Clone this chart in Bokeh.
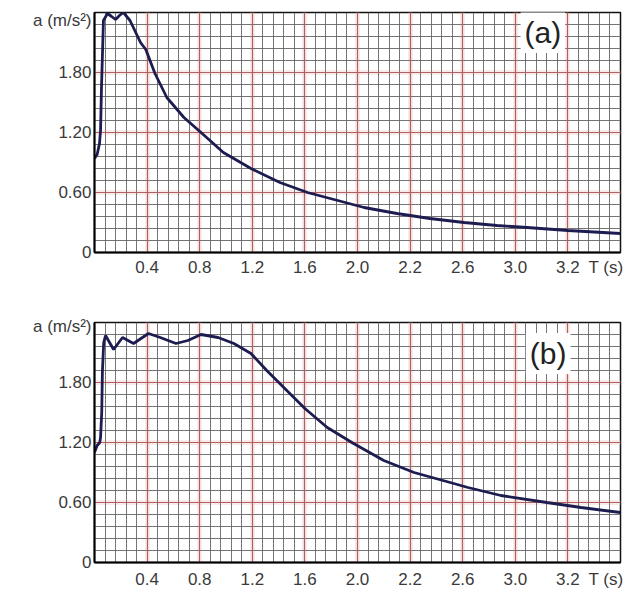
from bokeh.plotting import figure
from bokeh.models import Label, Grid, FixedTicker, Range1d
from bokeh.layouts import column
from bokeh.embed import file_html
from bokeh.resources import INLINE

# ---- data ----
T_a = [0.0, 0.02, 0.038, 0.046, 0.053, 0.068, 0.099, 0.13, 0.16, 0.19, 0.22, 0.27, 0.35,
       0.39, 0.46, 0.55, 0.68, 0.81, 0.98, 1.19, 1.41, 1.62, 1.85, 2.05, 2.30, 2.55,
       2.81, 3.06, 3.29, 3.60, 4.00]
A_a = [0.94, 0.98, 1.09, 1.22, 1.64, 2.32, 2.39, 2.36, 2.33, 2.37, 2.40, 2.32, 2.10,
       2.03, 1.79, 1.55, 1.35, 1.20, 1.00, 0.84, 0.70, 0.60, 0.52, 0.45, 0.39, 0.34,
       0.30, 0.27, 0.25, 0.22, 0.19]

T_b = [0.0, 0.02, 0.04, 0.046, 0.055, 0.06, 0.07, 0.084, 0.145, 0.213, 0.297, 0.41,
       0.50, 0.62, 0.71, 0.81, 0.94, 1.06, 1.19, 1.31, 1.47, 1.60, 1.77, 1.97, 2.20,
       2.43, 2.65, 2.84, 3.09, 3.44, 3.70, 4.00]
A_b = [1.10, 1.17, 1.20, 1.25, 1.50, 1.90, 2.20, 2.27, 2.13, 2.25, 2.19, 2.29,
       2.25, 2.19, 2.22, 2.28, 2.25, 2.19, 2.09, 1.92, 1.71, 1.54, 1.35, 1.19, 1.02,
       0.90, 0.82, 0.75, 0.67, 0.60, 0.55, 0.50]

x_tick_values = [0.4, 0.8, 1.2, 1.6, 2.0, 2.4, 2.8, 3.2, 3.6]
x_tick_labels = ["0.4", "0.8", "1.2", "1.6", "2.0", "2.2", "2.6", "3.0", "3.2"]
y_tick_values = [0.0, 0.6, 1.2, 1.8]
y_tick_labels = ["0", "0.60", "1.20", "1.80"]
panel_tags = ["(a)", "(b)"]
y_title = "a (m/s\u00b2)"
x_title = "T (s)"

X_MAX, Y_MAX = 4.0, 2.4
FONT = "Liberation Sans"


def make_panel(T, A, tag, height, border_top, border_bottom, standoff,
               tag_pos, ytitle_y, xtitle_x):
    p = figure(width=627, height=height, output_backend="svg", toolbar_location=None,
               x_range=Range1d(0, X_MAX), y_range=Range1d(0, Y_MAX),
               min_border_left=94, min_border_right=7,
               min_border_top=border_top, min_border_bottom=border_bottom,
               background_fill_color="white", border_fill_color="white")
    p.outline_line_color = "#111111"
    p.outline_line_width = 1.5
    p.xgrid.grid_line_color = None
    p.ygrid.grid_line_color = None

    minor_x = FixedTicker(ticks=[i * 0.08 for i in range(1, 50)])
    minor_y = FixedTicker(ticks=[i * 0.12 for i in range(1, 20)])
    major_x = FixedTicker(ticks=x_tick_values)
    major_y = FixedTicker(ticks=[0.6, 1.2, 1.8])

    # faint pink halo under red major lines
    for dim, tk in ((0, major_x), (1, major_y)):
        p.add_layout(Grid(dimension=dim, ticker=tk, grid_line_color="#f2cccc",
                          grid_line_width=5, grid_line_alpha=0.4), "center")
    # fine grey grid
    for dim, tk in ((0, minor_x), (1, minor_y)):
        p.add_layout(Grid(dimension=dim, ticker=tk, grid_line_color="#666666",
                          grid_line_width=1, grid_line_alpha=0.9), "center")
    # red major grid
    for dim, tk in ((0, major_x), (1, major_y)):
        p.add_layout(Grid(dimension=dim, ticker=tk, grid_line_color="#b06060",
                          grid_line_width=1.2), "center")

    p.line(T, A, line_color="#1c1c50", line_width=2.8)

    # axes: the axis titles sit beside the frame like tick labels
    xt = x_tick_values + [xtitle_x]
    xl = x_tick_labels + [x_title]
    yt = y_tick_values + [ytitle_y]
    yl = y_tick_labels + [y_title]
    p.xaxis.ticker = FixedTicker(ticks=xt)
    p.xaxis.major_label_overrides = {float(v): l for v, l in zip(xt, xl)}
    p.yaxis.ticker = FixedTicker(ticks=yt)
    p.yaxis.major_label_overrides = {float(v): l for v, l in zip(yt, yl)}
    for ax in (p.xaxis[0], p.yaxis[0]):
        ax.axis_line_color = "black"
        ax.axis_line_width = 2
        ax.major_tick_out = 0
        ax.major_tick_in = 0
        ax.minor_tick_out = 0
        ax.minor_tick_in = 0
        ax.major_label_text_font = FONT
        ax.major_label_text_font_size = "17px"
        ax.major_label_text_color = "#3a3a3a"
    p.xaxis.major_label_standoff = standoff
    p.yaxis.major_label_standoff = 3

    p.add_layout(Label(x=tag_pos[0], y=tag_pos[1], text=tag, text_align="center",
                       text_baseline="middle", text_font=FONT, text_font_size="30px",
                       text_color="#222222", background_fill_color="white",
                       padding=4))
    return p


p1 = make_panel(T_a, A_a, panel_tags[0], 300, 12, 48, 5, (3.41, 2.20), 2.32, 3.89)
p2 = make_panel(T_b, A_b, panel_tags[1], 296, 22, 34, 7, (3.45, 2.09), 2.36, 3.89)

layout = column(p1, p2, spacing=0)
open("out.html", "w").write(file_html(layout, INLINE))
